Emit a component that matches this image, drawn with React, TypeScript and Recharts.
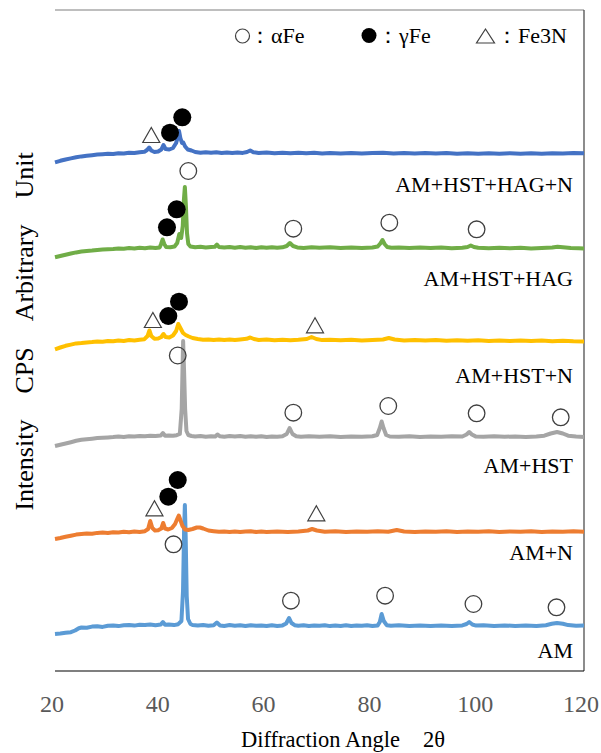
import { ComposedChart, Line, Scatter, XAxis, YAxis, ReferenceLine } from "recharts";

type Pt = [number, number];

// diffraction angle (2θ) vs intensity, each pattern already shifted up for stacking
const am: Pt[] = [
  [20, 37], [21, 37.5], [22, 38.2], [23, 38.8], [23.8, 40.5], [24.5, 42.8], [25, 43.5], [26, 43.2], [27, 44.4],
  [28, 44.8], [29, 44.1], [30, 45.3], [31, 45.6], [32, 44.9], [33, 45.8], [34, 46.1], [35, 45.4], [36, 46.3],
  [37, 45.9], [38, 46.5], [39, 45.8], [40, 46.4], [40.4, 49], [40.8, 46.2], [41.5, 46.6], [42.5, 45.9],
  [43.3, 46.8], [43.9, 50], [44.2, 80], [44.4, 140], [44.55, 166], [44.7, 135], [44.9, 75], [45.15, 52],
  [45.6, 47], [46, 46], [47, 45.4], [48, 46], [49, 45.2], [50, 45.8], [50.6, 48.5], [51.2, 45.6], [52, 45.1],
  [53, 45.9], [54, 45.3], [55, 45.7], [56, 45], [57, 45.8], [58, 45.2], [59, 45.6], [60, 44.9], [61, 45.7],
  [62, 45.1], [63, 45.6], [63.7, 47.5], [64.25, 53], [64.7, 48], [65.3, 45.8], [66, 45.2], [67, 45.7],
  [68, 45], [69, 45.6], [70, 45.2], [71, 45.8], [72, 44.9], [73, 45.5], [74, 45.1], [75, 45.7], [76, 45],
  [77, 45.6], [78, 45.2], [79, 45.7], [80, 45.1], [81, 45.6], [81.4, 49], [81.75, 57], [82.15, 50],
  [82.7, 45.8], [83.5, 45.2], [85, 45.7], [87, 45.1], [89, 45.6], [91, 45], [93, 45.5], [95, 45.1],
  [97, 45.6], [97.8, 47], [98.3, 49], [98.9, 46.5], [99.6, 45.4], [101, 45.8], [103, 45.1], [105, 45.6],
  [107, 45], [109, 45.5], [111, 45.1], [112.8, 45.8], [113.9, 47.2], [114.9, 48], [116, 47.3], [117, 45.9],
  [118.5, 45.2], [120, 45.4],
];

const amN: Pt[] = [
  [20, 132], [21, 133], [22, 134.2], [23, 135.3], [24, 136.4], [25, 137], [26, 137.6], [27, 137.2], [28, 138.1],
  [29, 138.4], [30, 138], [31, 138.8], [32, 138.5], [33, 139.2], [34, 138.8], [35, 139.5], [36, 139.1],
  [37, 139.8], [37.6, 142], [38.0, 150], [38.4, 143], [38.9, 140.5], [39.5, 140.8], [40.1, 142.5],
  [40.45, 148], [40.8, 142.5], [41.4, 141.5], [42.1, 143], [42.7, 147], [43.1, 152], [43.4, 155.5],
  [43.7, 151], [44.1, 145], [44.6, 141.5], [45.2, 141], [46, 142], [46.8, 143.5], [47.4, 143.5], [48, 142.5],
  [49, 140.5], [50, 139.8], [51, 139.2], [52, 139.6], [53, 139], [54, 139.5], [55, 138.9], [56, 139.4],
  [57, 139.8], [58, 139.1], [59, 139.5], [60, 139], [62, 139.6], [64, 139.1], [66, 139.5], [67.8, 140.5],
  [68.6, 142], [69.5, 140.5], [71, 139.3], [73, 139.7], [75, 139.1], [77, 139.6], [79, 139.2], [81, 139.7],
  [83, 139.3], [84.6, 141], [86, 139.5], [88, 139.1], [90, 139.6], [92, 139.2], [94, 139.7], [96, 139.1],
  [98, 139.6], [100, 139.2], [102, 139.7], [104, 139.1], [106, 139.5], [108, 139.2], [110, 139.7],
  [112, 139.1], [114, 139.6], [116, 139.3], [118, 139.7], [120, 139.2],
];

const amHst: Pt[] = [
  [20, 225], [21, 226.3], [22, 227.5], [23, 228.8], [24, 230.2], [25, 231.2], [26, 231.8], [27, 232.3],
  [28, 232.9], [29, 233.2], [30, 233.6], [31, 233.9], [32, 234.4], [33, 234.1], [34, 234.8], [35, 234.5],
  [36, 235.1], [37, 234.7], [38, 235.3], [39, 234.9], [40, 235.4], [40.4, 238], [40.8, 235.3], [41.5, 235.6],
  [42.3, 235.2], [43, 235.8], [43.6, 237], [43.95, 262], [44.1, 300], [44.22, 330], [44.4, 300], [44.6, 262],
  [44.85, 240], [45.2, 236], [45.8, 235], [46.5, 234.5], [47.5, 235], [48.5, 234.3], [49.5, 234.8],
  [50.3, 234.6], [50.7, 236.5], [51.2, 234.7], [52, 234.2], [53, 234.9], [54, 234.4], [55, 235], [56, 234.3],
  [57, 234.8], [58, 234.2], [59, 234.7], [60, 234.1], [61, 234.6], [62, 234.2], [63, 234.8], [63.8, 237],
  [64.35, 243], [64.9, 237], [65.6, 234.7], [66.5, 234.2], [68, 234.8], [70, 234.3], [72, 234.7], [74, 234.1],
  [76, 234.6], [78, 234.2], [80, 234.7], [80.9, 236], [81.4, 243], [81.75, 249.5], [82.1, 243], [82.6, 236],
  [83.3, 234.5], [85, 234.2], [87, 234.7], [89, 234.1], [91, 234.6], [93, 234.2], [95, 234.7], [97, 234.5],
  [97.8, 236.5], [98.3, 239], [98.8, 236.5], [99.5, 234.6], [101, 234.3], [103, 234.7], [105, 234.2],
  [107, 234.6], [109, 234.1], [111, 234.5], [112.5, 235.3], [113.7, 237.5], [114.9, 239], [116, 237.5],
  [117, 235.3], [118.5, 234.4], [120, 234],
];

const amHstN: Pt[] = [
  [20, 321.7], [21, 323.5], [22, 325.2], [23, 326.4], [24, 327.6], [25, 328], [26, 328.6], [27, 328.9],
  [28, 329.5], [29, 329.2], [30, 330], [31, 329.7], [32, 330.5], [33, 330.1], [34, 330.9], [35, 330.6],
  [36, 331.3], [36.9, 331.8], [37.5, 335], [37.85, 340.5], [38.2, 335], [38.8, 332.3], [39.5, 332.5],
  [40.1, 334], [40.5, 337], [40.9, 334], [41.6, 333.5], [42.3, 335.5], [42.9, 340], [43.3, 347], [43.7, 343],
  [44.2, 338], [44.7, 336], [45.3, 334.5], [46, 333], [47, 332], [48, 331.2], [49, 331.6], [50, 331],
  [51, 331.5], [52, 330.9], [53, 331.4], [54, 331], [55, 331.6], [56.2, 332.2], [56.9, 333.5], [57.6, 332],
  [58.5, 331], [60, 331.4], [61.5, 330.8], [63, 331.3], [64.5, 330.7], [66, 331.2], [67.6, 332], [68.5, 334],
  [69.4, 332], [70.5, 330.9], [72, 331.3], [74, 330.7], [76, 331.2], [78, 330.6], [80, 331.1], [82, 331.5],
  [83.1, 333], [84.2, 331.5], [86, 330.6], [88, 331], [90, 330.4], [92, 330.9], [94, 330.3], [96, 330.8],
  [98, 330.2], [100, 330.7], [102, 330.1], [104, 330.6], [106, 330], [108, 330.5], [110, 329.9],
  [112, 330.4], [114, 329.8], [116, 330.3], [118, 329.7], [120, 329.4],
];

const amHstHag: Pt[] = [
  [20, 413.7], [21, 415], [22, 416.3], [23, 417.5], [24, 418.6], [25, 419.4], [26, 420], [27, 420.4],
  [28, 421], [29, 421.4], [30, 421.8], [31, 422.1], [32, 422.6], [33, 422.3], [34, 422.9], [35, 422.6],
  [36, 423.2], [37, 422.8], [38, 423.4], [39, 423], [39.8, 423.6], [40.05, 427], [40.35, 431.5],
  [40.65, 427], [41, 424], [41.8, 423.8], [42.6, 424.5], [43.1, 428], [43.5, 437], [43.85, 433],
  [44.15, 445], [44.35, 470], [44.55, 484], [44.75, 465], [44.95, 438], [45.2, 427], [45.6, 424.5],
  [46.5, 423.8], [47.5, 424.2], [48.5, 423.5], [49.5, 424], [50.2, 424.2], [50.6, 426.5], [51, 424],
  [52, 423.4], [53, 424], [54, 423.3], [55, 423.9], [56, 423.2], [57, 423.8], [58, 423.1], [59, 423.7],
  [60, 423.2], [61, 423.8], [62, 423.2], [63, 423.7], [63.8, 425], [64.4, 428], [65, 425], [65.8, 423.6],
  [67, 423.1], [68.5, 423.7], [70, 423.2], [72, 423.8], [74, 423.1], [76, 423.6], [78, 423], [80, 423.5],
  [81, 424.5], [81.5, 427.5], [81.9, 431], [82.3, 427], [82.8, 424], [83.6, 423.2], [85, 423.6], [87, 423],
  [89, 423.5], [91, 422.9], [93, 423.4], [95, 422.8], [97, 423.3], [98, 424], [98.6, 425.5], [99.2, 424],
  [100, 423.2], [102, 422.8], [104, 423.3], [106, 422.7], [108, 423.2], [110, 422.6], [112, 423.1],
  [114, 423.6], [115, 424.3], [116, 423.8], [117.5, 423], [119, 422.7], [120, 422.5],
];

const amHstHagN: Pt[] = [
  [20, 508.7], [21, 510.2], [22, 511.5], [23, 512.6], [24, 513.7], [25, 514.6], [26, 515.2], [27, 515.8],
  [28, 516.4], [29, 516.8], [30, 517.2], [31, 517], [32, 517.8], [33, 517.5], [34, 518.3], [35, 518],
  [36, 518.8], [36.9, 519.2], [37.4, 521], [37.8, 523.5], [38.2, 520.5], [38.8, 519], [39.5, 519.5],
  [40.1, 521.5], [40.5, 526], [40.9, 522], [41.6, 521.5], [42.3, 523], [42.9, 528], [43.2, 534],
  [43.45, 540], [43.7, 533], [44.0, 528], [44.25, 528.5], [44.6, 524.5], [45.1, 521.5], [45.8, 520.5],
  [46.5, 519], [47.5, 518.3], [48.5, 518.8], [49.5, 518.2], [50.5, 518.7], [51.5, 518.1], [52.5, 518.6],
  [53.5, 518], [54.5, 518.5], [55.5, 518.1], [56.3, 519], [56.9, 520.5], [57.5, 518.8], [58.5, 518],
  [60, 518.4], [61.5, 517.8], [63, 518.3], [64.5, 517.8], [66, 518.3], [67.5, 517.7], [69, 518.2],
  [70.5, 517.6], [72, 518.1], [74, 517.5], [76, 518], [78, 517.4], [80, 517.9], [82, 518.3], [84, 517.6],
  [86, 518.1], [88, 517.5], [90, 518], [92, 517.4], [94, 517.9], [96, 517.3], [98, 517.8], [100, 517.2],
  [102, 517.7], [104, 517.3], [106, 517.8], [108, 517.2], [110, 517.7], [112, 517.3], [114, 517.8],
  [116, 517.4], [118, 517.9], [120, 517.7],
];

// phase markers
const alphaFe: Pt[] = [
  [45.2, 500], [65.05, 442.3], [83.2, 448.3], [99.7, 441.7],
  [43.2, 315.5], [65.05, 258.3], [83.0, 265], [99.7, 257.7], [115.6, 253.7],
  [42.4, 126.7], [64.6, 70.3], [82.4, 75.3], [99.1, 67], [114.8, 63.7],
];
const gammaFe: Pt[] = [
  [41.74, 538.3], [44.06, 553.7], [41.17, 443.7], [43.0, 461.7],
  [41.42, 355], [43.44, 369.3], [41.42, 174.3], [43.2, 191],
];
const fe3n: Pt[] = [[38.2, 536], [38.5, 351], [69.15, 345.7], [38.8, 162.7], [69.4, 157.7]];

const xTicks = [20, 40, 60, 80, 100, 120];

const series = [
  { name: "AM", color: "#5B9BD5", points: am },
  { name: "AM+N", color: "#ED7D31", points: amN },
  { name: "AM+HST", color: "#A5A5A5", points: amHst },
  { name: "AM+HST+N", color: "#FFC000", points: amHstN },
  { name: "AM+HST+HAG", color: "#70AD47", points: amHstHag },
  { name: "AM+HST+HAG+N", color: "#4472C4", points: amHstHagN },
];

// baseline (px) of each series label, same order as series
const labelY = [658, 560, 473, 383, 286, 192];

const rows = (pts: Pt[]) => pts.map(([a, v]) => ({ a, v }));

const FONT = "Liberation Serif, Times New Roman, serif";
const MARK = "#404040";

const OpenCircle = (p: any) => (
  <circle cx={p.cx} cy={p.cy} r={8.3} fill="none" stroke={MARK} strokeWidth={1.3} />
);
const Dot = (p: any) => <circle cx={p.cx} cy={p.cy} r={9} fill="#000" />;
const Tri = (p: any) => (
  <polygon
    points={`${p.cx},${p.cy - 7.5} ${p.cx - 8.5},${p.cy + 7.5} ${p.cx + 8.5},${p.cy + 7.5}`}
    fill="none"
    stroke={MARK}
    strokeWidth={1.2}
  />
);

export default function App() {
  return (
    <div style={{ position: "absolute", left: 0, top: 0, width: 601, height: 753, background: "#fff", fontFamily: FONT }}>
      <ComposedChart width={601} height={753} margin={{ top: 10, right: 17, bottom: 42, left: 55 }}>
        <XAxis
          dataKey="a"
          type="number"
          domain={[20, 120]}
          ticks={xTicks}
          interval={0}
          height={40}
          tickLine={false}
          tickSize={0}
          tickMargin={24}
          axisLine={{ stroke: "#000", strokeWidth: 1.2 }}
          tick={{ fill: "#595959", fontSize: 24, fontFamily: FONT, dx: -3 }}
        />
        <YAxis
          dataKey="v"
          type="number"
          domain={[0, 661]}
          width={0}
          tick={false}
          tickLine={false}
          axisLine={{ stroke: "#000", strokeWidth: 1.2 }}
        />
        <ReferenceLine y={661} stroke="#7f7f7f" strokeWidth={1.2} />
        <ReferenceLine x={120} stroke="#404040" strokeWidth={1.2} />
        {series.map((s) => (
          <Line
            key={s.name}
            data={rows(s.points)}
            dataKey="v"
            type="linear"
            stroke={s.color}
            strokeWidth={4}
            strokeLinejoin="round"
            dot={false}
            isAnimationActive={false}
          />
        ))}
        <Scatter data={rows(alphaFe)} dataKey="v" shape={OpenCircle} isAnimationActive={false} />
        <Scatter data={rows(gammaFe)} dataKey="v" shape={Dot} isAnimationActive={false} />
        <Scatter data={rows(fe3n)} dataKey="v" shape={Tri} isAnimationActive={false} />
      </ComposedChart>

      <svg
        width={601}
        height={753}
        style={{ position: "absolute", left: 0, top: 0, pointerEvents: "none", fontFamily: FONT }}
      >
        {/* legend */}
        <circle cx={242.5} cy={36} r={7} fill="none" stroke={MARK} strokeWidth={1.2} />
        <text x={249} y={43} fontSize={22} fill="#000">：αFe</text>
        <circle cx={369} cy={35.5} r={7.5} fill="#000" />
        <text x={377} y={43} fontSize={22} fill="#000">：γFe</text>
        <polygon points="485.5,29 476.5,43 494.5,43" fill="none" stroke={MARK} strokeWidth={1.2} />
        <text x={496} y={43} fontSize={22} fill="#000">：Fe3N</text>

        {series.map((s, i) => (
          <text key={s.name} x={573} y={labelY[i]} fontSize={22} textAnchor="end" fill="#000">
            {s.name}
          </text>
        ))}

        <text x={343} y={747} fontSize={22.5} textAnchor="middle" fill="#000">
          Diffraction Angle　2θ
        </text>
        <text transform="translate(33,331.5) rotate(-90)" fontSize={26} textAnchor="middle" fill="#000">
          Intensity　CPS　Arbitrary　Unit
        </text>
      </svg>
    </div>
  );
}
